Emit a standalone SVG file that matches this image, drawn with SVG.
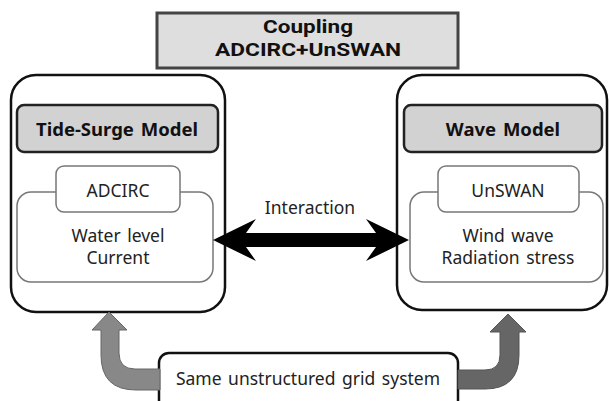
<svg xmlns="http://www.w3.org/2000/svg" width="609" height="401" viewBox="0 0 609 401">
<style>
text{font-family:"Noto Sans","Open Sans","DejaVu Sans",sans-serif;fill:#222;text-anchor:middle;font-size:17.5px;word-spacing:2px}
.b{font-weight:bold;fill:#111;font-size:18.5px}
.t{font-family:Roboto,"Liberation Sans",sans-serif;font-weight:bold;fill:#111;font-size:19px}
.outer{fill:#fff;stroke:#111;stroke-width:2.5}
.hdr{fill:#d2d2d2;stroke:#222;stroke-width:2.5}
.inner{fill:#fff;stroke:#777;stroke-width:1.5}
</style>
<rect width="609" height="401" fill="#fff"/>
<g id="coupling">
<rect x="157" y="13" width="301" height="55" fill="#dedede" stroke="#444" stroke-width="3"/>
<text class="t" x="308" y="33" textLength="90" lengthAdjust="spacingAndGlyphs">Coupling</text>
<text class="t" x="308" y="56" textLength="186" lengthAdjust="spacingAndGlyphs">ADCIRC+UnSWAN</text>
</g>
<g id="tide-surge">
<rect class="outer" x="11" y="75" width="214" height="237" rx="25"/>
<rect class="hdr" x="17" y="105" width="201" height="47" rx="7"/>
<text class="b" x="117" y="136">Tide-Surge Model</text>
<rect class="inner" x="17" y="192" width="196" height="90" rx="14"/>
<rect class="inner" x="56" y="166" width="124" height="46" rx="8"/>
<text x="118" y="197">ADCIRC</text>
<text x="118" y="242">Water level<tspan x="118" dy="22">Current</tspan></text>
</g>
<g id="wave">
<rect class="outer" x="397" y="75" width="210" height="235" rx="25"/>
<rect class="hdr" x="404" y="105" width="198" height="47" rx="7"/>
<text class="b" x="503" y="136">Wave Model</text>
<rect class="inner" x="410" y="192" width="193" height="90" rx="14"/>
<rect class="inner" x="438" y="166" width="141" height="46" rx="8"/>
<text x="508" y="197">UnSWAN</text>
<text x="508" y="242">Wind wave<tspan x="508" dy="22">Radiation stress</tspan></text>
</g>
<g id="grid">
<rect x="159" y="353" width="299" height="60" rx="10" fill="#fff" stroke="#111" stroke-width="2.5"/>
<text x="308" y="385">Same unstructured grid system</text>
</g>
<g id="connectors">
<polygon points="213,240 256,219 246,233 376,233 366,219 409,240 366,261 376,247 246,247 256,261" fill="#000"/>
<text x="310" y="214" font-size="18.5">Interaction</text>
<path d="M160,369 L135,369 Q119,369 119,353 L119,330 L127,330 L109,312 L92,330 L101,330 L101,355 Q101,390 136,390 L160,390 Z" fill="#888" stroke="#666" stroke-width="1"/>
<path d="M458,370 L485,370 Q500,370 500,355 L500,332 L490,332 L508,314 L526,332 L519,332 L519,355 Q519,389 485,389 L458,389 Z" fill="#666" stroke="#555" stroke-width="1"/>
</g>
</svg>
